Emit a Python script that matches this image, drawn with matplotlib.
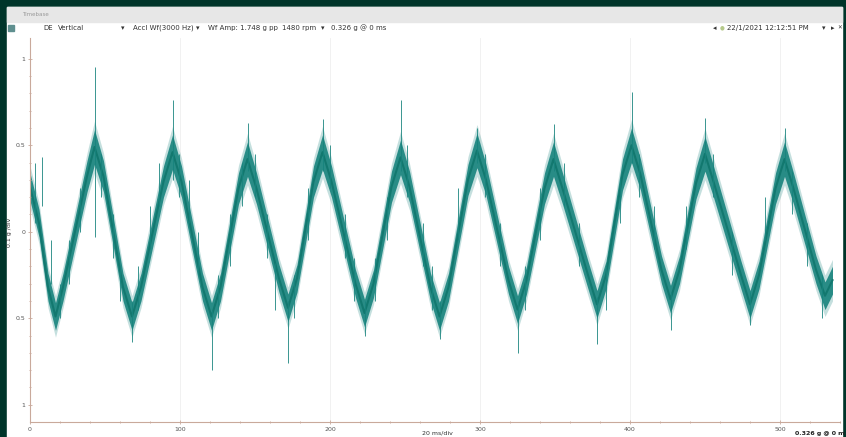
import numpy as np
import matplotlib.pyplot as plt

# Datos (ms, g)
t_ms = [0, 6, 12, 17, 22, 38, 43, 49, 62, 68, 74, 89, 95, 101, 115, 121,
        127, 139, 145, 151, 166, 172, 178, 189, 195, 201, 217, 223, 229,
        241, 247, 253, 267, 273, 279, 292, 298, 304, 319, 325, 331, 343,
        349, 355, 372, 378, 384, 395, 401, 407, 421, 427, 433, 444, 450,
        456, 474, 480, 486, 497, 503, 509, 524, 530, 535]
centro_g = [0.26, 0.05, -0.32, -0.49, -0.32, 0.32, 0.49, 0.32, -0.32, -0.49,
            -0.32, 0.29, 0.46, 0.29, -0.32, -0.49, -0.32, 0.25, 0.42, 0.25,
            -0.27, -0.44, -0.27, 0.29, 0.46, 0.29, -0.30, -0.47, -0.30,
            0.26, 0.43, 0.26, -0.32, -0.49, -0.32, 0.30, 0.47, 0.30, -0.28,
            -0.45, -0.28, 0.25, 0.42, 0.25, -0.25, -0.42, -0.25, 0.33, 0.50,
            0.33, -0.22, -0.39, -0.22, 0.28, 0.45, 0.28, -0.25, -0.42, -0.25,
            0.25, 0.42, 0.25, -0.22, -0.37, -0.28]
ancho_g = [0.08, 0.08, 0.08, 0.08, 0.08, 0.09, 0.10, 0.09, 0.08, 0.08,
           0.08, 0.09, 0.10, 0.09, 0.08, 0.08, 0.08, 0.09, 0.10, 0.09,
           0.08, 0.08, 0.08, 0.09, 0.10, 0.09, 0.08, 0.08, 0.08,
           0.09, 0.10, 0.09, 0.08, 0.08, 0.08, 0.09, 0.10, 0.09, 0.08,
           0.08, 0.08, 0.09, 0.10, 0.09, 0.08, 0.08, 0.08, 0.09, 0.10,
           0.09, 0.08, 0.08, 0.08, 0.09, 0.10, 0.09, 0.08, 0.08, 0.08,
           0.09, 0.10, 0.09, 0.08, 0.08, 0.08]

# picos sueltos: tiempo, valor bajo, valor alto
pico_t = [3, 8, 14, 20, 26, 33, 43, 47, 55, 60, 68, 72, 80, 86, 95, 99,
          106, 112, 121, 125, 133, 141, 145, 150, 158, 163, 172, 176, 185,
          195, 200, 210, 216, 223, 230, 238, 247, 251, 262, 268, 273, 285,
          298, 303, 313, 325, 330, 340, 349, 356, 366, 378, 384, 393, 401,
          406, 416, 427, 437, 450, 455, 468, 480, 490, 503, 508, 518, 528]
pico_lo = [0.05, 0.15, -0.30, -0.50, -0.30, 0.00, -0.03, 0.20, -0.15, -0.40,
           -0.64, -0.45, -0.10, 0.15, 0.30, 0.20, 0.05, -0.25, -0.80, -0.50,
           -0.20, 0.15, 0.35, 0.20, -0.15, -0.45, -0.76, -0.50, -0.05,
           0.35, 0.25, -0.15, -0.40, -0.60, -0.40, -0.05, 0.35, 0.20, -0.20,
           -0.45, -0.62, -0.05, 0.40, 0.20, -0.20, -0.70, -0.45, -0.05, 0.35,
           0.15, -0.20, -0.65, -0.45, 0.05, 0.40, 0.20, -0.10, -0.57, -0.10,
           0.40, 0.20, -0.25, -0.54, -0.05, 0.35, 0.10, -0.20, -0.50]
pico_hi = [0.40, 0.43, -0.05, -0.30, -0.05, 0.25, 0.95, 0.45, 0.10, -0.20,
           -0.40, -0.20, 0.15, 0.40, 0.76, 0.45, 0.30, 0.00, -0.45, -0.25,
           0.10, 0.40, 0.63, 0.45, 0.10, -0.18, -0.40, -0.25, 0.25,
           0.65, 0.50, 0.10, -0.15, -0.40, -0.15, 0.20, 0.76, 0.50, 0.05,
           -0.20, -0.40, 0.25, 0.60, 0.45, 0.05, -0.40, -0.20, 0.25, 0.62,
           0.40, 0.05, -0.38, -0.20, 0.30, 0.81, 0.45, 0.15, -0.35, 0.15,
           0.66, 0.45, 0.00, -0.35, 0.20, 0.60, 0.35, 0.05, -0.25]

x_ticks = [0, 100, 200, 300, 400, 500]
y_ticks = [1, 0.5, 0, -0.5, -1]
y_labels = ["1", "0.5", "0", "0.5", "1"]

W, H = 846, 437
verde = "#00352a"
teal = "#17837d"
eje = "#c9a99b"
gris = "#555555"

fig = plt.figure(figsize=(W / 100, H / 100), dpi=100)
fig.patch.set_facecolor(verde)


def px(x, y):
    return x / W, 1 - y / H


# ventana
fig.patches.append(plt.Rectangle((7 / W, 0), (842 - 7) / W, 1 - 7 / H,
                                 transform=fig.transFigure, color="white", zorder=-5))
fig.patches.append(plt.Rectangle((7 / W, 1 - 22 / H), (842 - 7) / W, 15 / H,
                                 transform=fig.transFigure, color="#e7e7e7", zorder=-4))
fig.patches.append(plt.Rectangle((8 / W, 1 - 31 / H), 6 / W, 6 / H,
                                 transform=fig.transFigure, color="#5f8f8f", zorder=-4))
fig.text(*px(22, 15), "Timebase", fontsize=4, color="#999999", va="center")

f = 5
yb = 28
fig.text(*px(43, yb), "DE", fontsize=f, color="#333333", va="center")
fig.text(*px(58, yb), "Vertical", fontsize=f, color="#333333", va="center")
fig.text(*px(121, yb), "▾", fontsize=f, color="#333333", va="center")
fig.text(*px(133, yb), "Accl Wf(3000 Hz)", fontsize=f, color="#333333", va="center")
fig.text(*px(196, yb), "▾", fontsize=f, color="#333333", va="center")
fig.text(*px(208, yb), "Wf Amp: 1.748 g pp", fontsize=f, color="#333333", va="center")
fig.text(*px(282, yb), "1480 rpm", fontsize=f, color="#333333", va="center")
fig.text(*px(321, yb), "▾", fontsize=f, color="#333333", va="center")
fig.text(*px(331, yb), "0.326 g @ 0 ms", fontsize=f, color="#333333", va="center")
fig.text(*px(713, yb), "◂", fontsize=f, color="#333333", va="center")
fig.text(*px(720, yb), "●", fontsize=4, color="#b5c98a", va="center")
fig.text(*px(727, yb), "22/1/2021 12:12:51 PM", fontsize=f, color="#333333", va="center")
fig.text(*px(822, yb), "▾", fontsize=f, color="#333333", va="center")
fig.text(*px(831, yb), "▸", fontsize=f, color="#333333", va="center")
fig.text(*px(837, yb), "✕", fontsize=4, color="#333333", va="center")

# ejes
ax = fig.add_axes([30 / W, 15 / H, (840 - 30) / W, (422 - 38) / H])
ax.set_zorder(5)
ax.patch.set_alpha(0)
ax.set_xlim(0, 540)
ax.set_ylim(-1.10, 1.12)

t = np.array(t_ms)
c = np.array(centro_g)
a = np.array(ancho_g)
ax.fill_between(t, c - a * 1.5, c + a * 1.5, color=teal, alpha=0.25, lw=0)
ax.fill_between(t, c - a, c + a, color=teal, alpha=0.9, lw=0)
ax.plot(t, c, color="#12786f", lw=1.5)
ax.vlines(pico_t, pico_lo, pico_hi, color=teal, lw=0.7, alpha=0.85)

ax.set_xticks(x_ticks)
ax.set_xticklabels([str(v) for v in x_ticks])
ax.set_xticks(np.arange(0, 541, 20), minor=True)
ax.set_yticks(y_ticks)
ax.set_yticklabels(y_labels)
ax.set_yticks(np.arange(-1.0, 1.01, 0.1), minor=True)
ax.tick_params(which="both", colors=eje, labelcolor=gris, labelsize=4.5,
               direction="inout", length=3, width=0.6, pad=2)
ax.tick_params(which="minor", length=2)
for v in x_ticks[1:]:
    ax.axvline(v, color="#efefef", lw=0.6, zorder=0)

for lado in ["top", "right"]:
    ax.spines[lado].set_visible(False)
ax.spines["left"].set_color(eje)
ax.spines["bottom"].set_color(eje)
ax.spines["left"].set_linewidth(0.8)
ax.spines["bottom"].set_linewidth(0.8)

fig.text(*px(10, 232), "0.1 g /div", fontsize=4.5, color="#333333",
         rotation=90, ha="center", va="center")
fig.text(*px(437, 433), "20 ms/div", fontsize=4.5, color="#333333",
         ha="center", va="center")
fig.text(*px(795, 434), "0.326 g @ 0 m", fontsize=4.5, color="#222222",
         fontweight="bold", va="center")

fig.savefig("out.png", dpi=100, facecolor=fig.get_facecolor())
